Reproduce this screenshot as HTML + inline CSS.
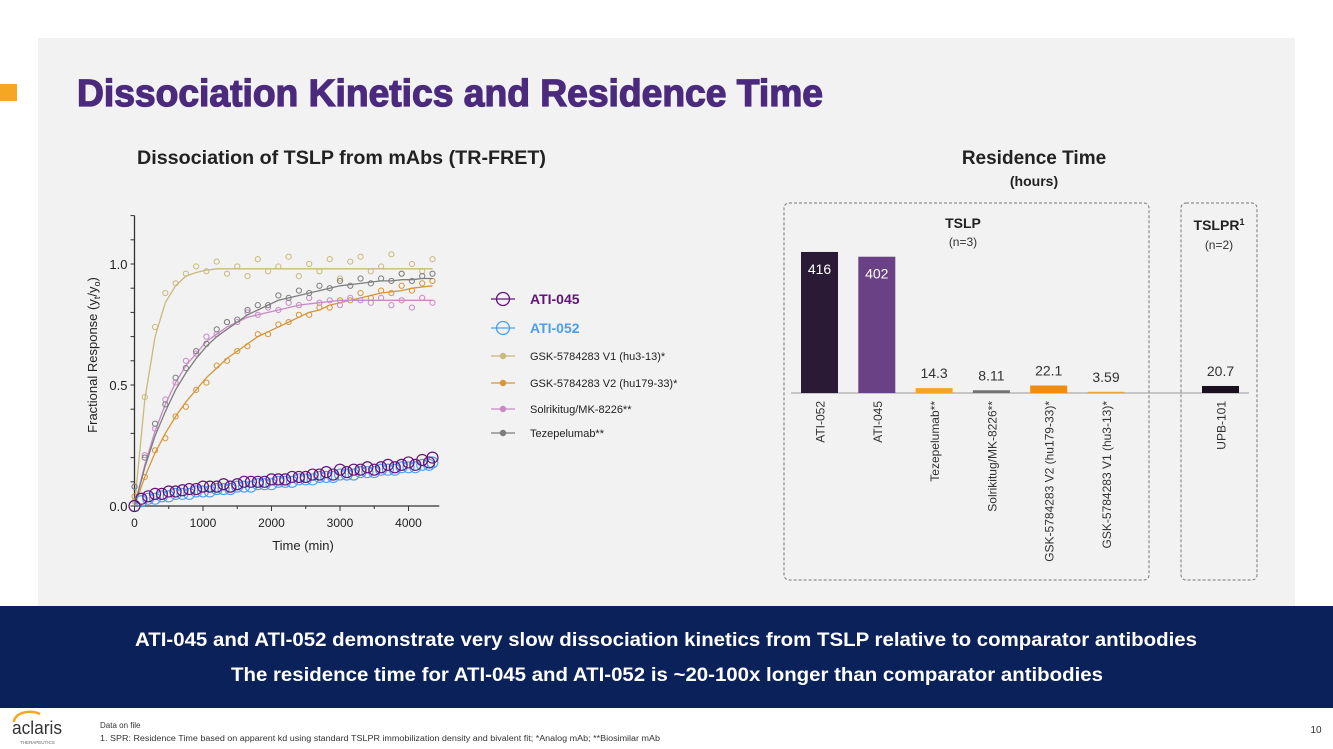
<!DOCTYPE html>
<html><head><meta charset="utf-8">
<style>
html,body{margin:0;padding:0;background:#fff;}
svg{display:block;font-family:"Liberation Sans",sans-serif;}
</style></head>
<body>
<svg id="page" width="1333" height="749" viewBox="0 0 1333 749" xmlns="http://www.w3.org/2000/svg">
<rect x="0" y="0" width="1333" height="749" fill="#fff"/>
<rect x="38" y="38" width="1257" height="568" fill="#f2f2f2"/>
<rect x="0" y="84" width="17" height="17" fill="#f5a623"/>
<text x="77" y="106" font-size="38" font-weight="bold" fill="#4b2a7e" stroke="#4b2a7e" stroke-width="1.3" textLength="746" lengthAdjust="spacingAndGlyphs">Dissociation Kinetics and Residence Time</text>
<text x="137" y="164" font-size="19" font-weight="bold" fill="#222" textLength="409" lengthAdjust="spacingAndGlyphs">Dissociation of TSLP from mAbs (TR-FRET)</text>
<text x="1034" y="164" font-size="19" font-weight="bold" fill="#222" text-anchor="middle">Residence Time</text>
<text x="1034" y="186" font-size="14" font-weight="bold" fill="#222" text-anchor="middle">(hours)</text>

<g id="kin"></g>
<g id="bars"></g>

<rect x="0" y="606" width="1333" height="102" fill="#0a215a"/>
<text x="135" y="646" font-size="19" font-weight="bold" fill="#fff" textLength="1062" lengthAdjust="spacingAndGlyphs">ATI-045 and ATI-052 demonstrate very slow dissociation kinetics from TSLP relative to comparator antibodies</text>
<text x="231" y="681" font-size="19" font-weight="bold" fill="#fff" textLength="872" lengthAdjust="spacingAndGlyphs">The residence time for ATI-045 and ATI-052 is ~20-100x longer than comparator antibodies</text>

<g>
<path d="M14 722 A16 10 0 0 1 40 714" fill="none" stroke="#f5a623" stroke-width="2.5"/>
<text x="12" y="734" font-size="18" fill="#333" textLength="50" lengthAdjust="spacingAndGlyphs">aclaris</text>
<text x="20" y="744" font-size="4.5" fill="#666">THERAPEUTICS</text>
</g>
<text x="100" y="728" font-size="8" fill="#333">Data on file</text>
<text x="100" y="741" font-size="8" fill="#333" textLength="560" lengthAdjust="spacingAndGlyphs">1. SPR: Residence Time based on apparent kd using standard TSLPR immobilization density and bivalent fit; *Analog mAb; **Biosimilar mAb</text>
<text x="1316" y="733" font-size="10" fill="#333" text-anchor="middle">10</text>
</svg>

<script>
// ---------- Dissociation chart data ----------
const timesC = [0,150,300,450,600,750,900,1050,1200,1350,1500,1650,1800,1950,2100,2250,2400,2550,2700,2850,3000,3150,3300,3450,3600,3750,3900,4050,4200,4350];
const v1Obs  = [0.02,0.45,0.74,0.88,0.92,0.96,0.99,0.97,1.01,0.96,0.99,0.95,1.02,0.97,0.99,1.03,0.95,1.00,0.97,1.02,0.94,1.01,1.03,0.97,0.99,1.04,0.96,1.00,0.97,1.02];
const v1Fit  = [0.00,0.44,0.70,0.84,0.91,0.95,0.965,0.975,0.98,0.98,0.98,0.98,0.98,0.98,0.98,0.98,0.98,0.98,0.98,0.98,0.98,0.98,0.98,0.98,0.98,0.98,0.98,0.98,0.98,0.98];
const v2Obs  = [0.04,0.12,0.23,0.28,0.37,0.41,0.48,0.51,0.58,0.60,0.64,0.66,0.71,0.71,0.75,0.76,0.79,0.79,0.82,0.82,0.85,0.85,0.88,0.86,0.89,0.88,0.91,0.89,0.92,0.93];
const v2Fit  = [0.00,0.12,0.22,0.30,0.37,0.43,0.48,0.53,0.57,0.61,0.64,0.67,0.70,0.72,0.74,0.76,0.78,0.80,0.81,0.83,0.84,0.85,0.86,0.87,0.88,0.885,0.89,0.90,0.905,0.91];
const solObs = [0.08,0.21,0.32,0.44,0.51,0.60,0.63,0.70,0.71,0.76,0.76,0.80,0.79,0.82,0.81,0.84,0.83,0.86,0.84,0.85,0.83,0.86,0.85,0.84,0.86,0.83,0.85,0.82,0.86,0.84];
const solFit = [0.00,0.17,0.31,0.42,0.51,0.58,0.63,0.68,0.71,0.74,0.76,0.78,0.79,0.80,0.81,0.82,0.83,0.835,0.84,0.845,0.85,0.85,0.85,0.85,0.85,0.85,0.85,0.85,0.85,0.85];
const tezObs = [0.08,0.20,0.34,0.42,0.53,0.57,0.64,0.67,0.73,0.76,0.77,0.81,0.83,0.83,0.87,0.86,0.89,0.88,0.91,0.90,0.93,0.91,0.94,0.92,0.94,0.93,0.96,0.93,0.95,0.96];
const tezFit = [0.00,0.16,0.29,0.39,0.48,0.55,0.61,0.66,0.70,0.73,0.76,0.79,0.81,0.83,0.85,0.86,0.87,0.88,0.89,0.90,0.91,0.915,0.92,0.925,0.93,0.93,0.935,0.935,0.94,0.94];
const timesA = [0,100,200,300,400,500,600,700,800,900,1000,1100,1200,1300,1400,1500,1600,1700,1800,1900,2000,2100,2200,2300,2400,2500,2600,2700,2800,2900,3000,3100,3200,3300,3400,3500,3600,3700,3800,3900,4000,4100,4200,4300,4350];
const ati045 = [0.00,0.03,0.04,0.05,0.05,0.06,0.06,0.065,0.07,0.07,0.08,0.08,0.08,0.09,0.08,0.09,0.10,0.10,0.10,0.10,0.11,0.11,0.11,0.12,0.12,0.12,0.13,0.13,0.14,0.13,0.15,0.14,0.15,0.15,0.16,0.15,0.16,0.17,0.16,0.17,0.18,0.17,0.19,0.18,0.20];
const ati052 = [0.00,0.02,0.03,0.03,0.04,0.04,0.05,0.05,0.05,0.06,0.06,0.06,0.07,0.07,0.07,0.08,0.08,0.08,0.09,0.09,0.09,0.10,0.10,0.10,0.11,0.11,0.11,0.12,0.12,0.12,0.13,0.13,0.13,0.14,0.14,0.14,0.15,0.15,0.15,0.16,0.16,0.16,0.17,0.17,0.18];
const xTicks = [0,1000,2000,3000,4000];
const yTicks = [0.0,0.5,1.0];
const legendNames = ["ATI-045","ATI-052","GSK-5784283 V1 (hu3-13)*","GSK-5784283 V2 (hu179-33)*","Solrikitug/MK-8226**","Tezepelumab**"];

// ---------- Residence time data ----------
const barCats = ["ATI-052","ATI-045","Tezepelumab**","Solrikitug/MK-8226**","GSK-5784283 V2 (hu179-33)*","GSK-5784283 V1 (hu3-13)*"];
const barVals = [416,402,14.3,8.11,22.1,3.59];
const barLabels = ["416","402","14.3","8.11","22.1","3.59"];
const tslprCats = ["UPB-101"];
const tslprVals = [20.7];
const tslprLabels = ["20.7"];

const NS="http://www.w3.org/2000/svg";
function mk(tag, attrs, parent){const e=document.createElementNS(NS,tag);for(const k in attrs)e.setAttribute(k,attrs[k]);parent.appendChild(e);return e;}

// ---- kinetics chart ----
(function(){
  const g=document.getElementById('kin');
  const X0=134.5, PX=0.0685, Y0=506, PY=242;
  const sx=t=>X0+t*PX, sy=v=>Y0-v*PY;
  const ax=mk('path',{d:`M${X0} ${sy(1.2)} V${Y0} H${sx(4450)}`,stroke:'#333','stroke-width':1.3,fill:'none'},g);
  
  
  for(let i=0;i<=12;i++){const v=i/10;const tl=mk('line',{x1:X0-4,x2:X0,y1:sy(v),y2:sy(v),stroke:'#333','stroke-width':1},g);
    }
  yTicks.forEach(v=>{const t=mk('text',{x:X0-7,y:sy(v)+5,'font-size':13,'text-anchor':'end',fill:'#222'},g);t.textContent=v.toFixed(1);
    });
  for(let t0=0;t0<=4000;t0+=500){const tl=mk('line',{x1:sx(t0),x2:sx(t0),y1:Y0,y2:Y0+(t0%1000?3:5),stroke:'#333','stroke-width':1},g);
    }
  xTicks.forEach(v=>{const t=mk('text',{x:sx(v),y:Y0+21,'font-size':12,'text-anchor':'middle',fill:'#222'},g);t.textContent=v;
    });
  const xt=mk('text',{x:303,y:550,'font-size':13,'text-anchor':'middle',fill:'#222'},g);xt.textContent='Time (min)';
  
  const yt=mk('text',{transform:'translate(97,355) rotate(-90)','font-size':13,'text-anchor':'middle',fill:'#222'},g);
  yt.innerHTML='Fractional Response  (y<tspan font-size="9" dy="3">t</tspan><tspan dy="-3">/y</tspan><tspan font-size="9" dy="3">o</tspan><tspan dy="-3">)</tspan>';
  

  function series(name,times,obs,fit,color,r,sw){
    const sg=mk('g',{},g);
    
    
    times.forEach((t,i)=>{const c=mk('circle',{cx:sx(t),cy:sy(obs[i]),r:r,fill:'none',stroke:color,'stroke-width':sw},sg);
      });
    if(fit){const d=times.map((t,i)=>(i?'L':'M')+sx(t).toFixed(1)+' '+sy(fit[i]).toFixed(1)).join(' ');
      const p=mk('path',{d:d,fill:'none',stroke:color,'stroke-width':1.3},sg);
      }
  }
  series('series-gsk-v1',timesC,v1Obs,v1Fit,'#c8ba7c',2.6,1);
  series('series-gsk-v2',timesC,v2Obs,v2Fit,'#d6963a',2.6,1);
  series('series-solrikitug',timesC,solObs,solFit,'#c88ac6',2.6,1);
  series('series-tezepelumab',timesC,tezObs,tezFit,'#7d7d7d',2.6,1);
  series('series-ati-052',timesA,ati052,null,'#4a9ff0',5.5,1.1);
  series('series-ati-045',timesA,ati045,null,'#63147a',5.5,1.2);
  const lcolors=['#63147a','#4a9ff0','#c8ba7c','#d6963a','#c88ac6','#7d7d7d'];
  const ly=[299,328,356,383,409,433];
  legendNames.forEach((n,i)=>{
    const lg=mk('g',{},g);
    
    
    const big=i<2;
    mk('line',{x1:491,x2:515,y1:ly[i],y2:ly[i],stroke:lcolors[i],'stroke-width':1.2},lg);
    mk('circle',{cx:503,cy:ly[i],r:big?6.5:2.6,fill:big?'none':lcolors[i],stroke:lcolors[i],'stroke-width':1.3},lg);
    const t=mk('text',{x:530,y:ly[i]+(big?5:4),'font-size':big?14:11,'font-weight':big?'bold':'normal',fill:big?lcolors[i]:'#222'},lg);
    t.textContent=n;
  });
})();

// ---- residence time bars ----
(function(){
  const g=document.getElementById('bars');
  const BASE=393, PY=0.339, BW=37;
  const barX=i=>801+i*57.3;
  const colors=['#2a1a36','#6a4184','#f3a525','#727272','#f08c10','#e3a83a'];
  const b1=mk('rect',{x:784,y:203,width:365,height:377,rx:5,fill:'none',stroke:'#777','stroke-dasharray':'3 2','stroke-width':1},g);
  
  const b2=mk('rect',{x:1181,y:203,width:76,height:377,rx:5,fill:'none',stroke:'#777','stroke-dasharray':'3 2','stroke-width':1},g);
  
  const base=mk('line',{x1:791,x2:1249,y1:BASE,y2:BASE,stroke:'#999','stroke-width':1},g);
  
  let t=mk('text',{x:963,y:228,'font-size':14,'font-weight':'bold','text-anchor':'middle',fill:'#222'},g);t.textContent='TSLP';
  
  t=mk('text',{x:963,y:246,'font-size':12,'text-anchor':'middle',fill:'#333'},g);t.textContent='(n=3)';
  
  t=mk('text',{x:1219,y:230,'font-size':14,'font-weight':'bold','text-anchor':'middle',fill:'#222'},g);t.innerHTML='TSLPR<tspan font-size="9" dy="-5">1</tspan>';
  
  t=mk('text',{x:1219,y:249,'font-size':12,'text-anchor':'middle',fill:'#333'},g);t.textContent='(n=2)';
  
  function bar(x,v,lab,cat,color){
    const h=v*PY;
    const r=mk('rect',{x:x,y:BASE-h,width:BW,height:h,fill:color},g);
    
    
    const inside=h>40;
    const vl=mk('text',{x:x+BW/2,y:inside?BASE-h+22:BASE-h-10,'font-size':14,'text-anchor':'middle',fill:inside?'#fff':'#333'},g);
    vl.textContent=lab;
    
    const cl=mk('text',{transform:`translate(${x+BW/2+5},${BASE+8}) rotate(-90)`,'font-size':12,'text-anchor':'end',fill:'#333'},g);
    cl.textContent=cat;
    
  }
  barCats.forEach((c,i)=>bar(barX(i),barVals[i],barLabels[i],c,colors[i]));
  tslprCats.forEach((c,i)=>bar(1202,tslprVals[i],tslprLabels[i],c,'#1a1020'));
})();
</script>
</body></html>
